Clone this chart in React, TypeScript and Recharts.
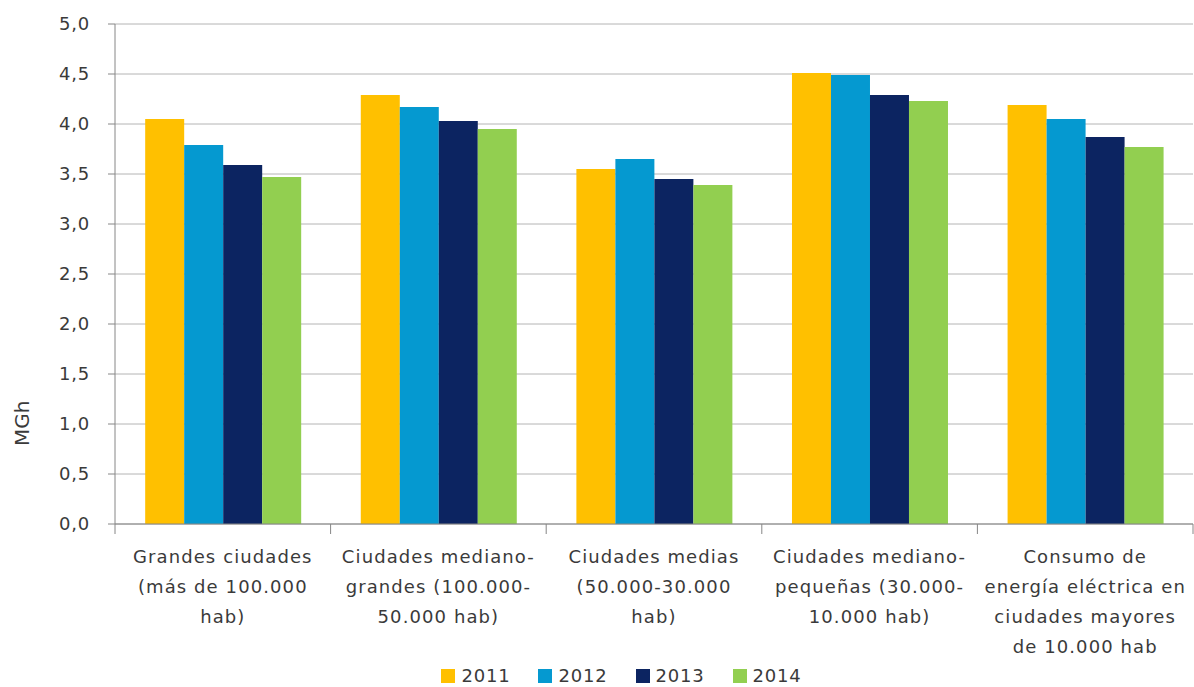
import React from 'react';
import { BarChart, Bar, XAxis, YAxis, CartesianGrid, Legend } from 'recharts';

const categories = [
    'Grandes ciudades (más de 100.000 hab)',
    'Ciudades mediano-grandes (100.000-50.000 hab)',
    'Ciudades medias (50.000-30.000 hab)',
    'Ciudades mediano-pequeñas (30.000-10.000 hab)',
    'Consumo de energía eléctrica en ciudades mayores de 10.000 hab',
];

// how each category label breaks into lines under the axis
const categoryLines = [
    ['Grandes ciudades', '(más de 100.000', 'hab)'],
    ['Ciudades mediano-', 'grandes (100.000-', '50.000 hab)'],
    ['Ciudades medias', '(50.000-30.000', 'hab)'],
    ['Ciudades mediano-', 'pequeñas (30.000-', '10.000 hab)'],
    ['Consumo de', 'energía eléctrica en', 'ciudades mayores', 'de 10.000 hab'],
];

const values2011 = [4.05, 4.29, 3.55, 4.51, 4.19];
const values2012 = [3.79, 4.17, 3.65, 4.49, 4.05];
const values2013 = [3.59, 4.03, 3.45, 4.29, 3.87];
const values2014 = [3.47, 3.95, 3.39, 4.23, 3.77];

const yTicks = [0, 0.5, 1, 1.5, 2, 2.5, 3, 3.5, 4, 4.5, 5];

const series = [
    { key: 'y2011', name: '2011', color: '#FFC000' },
    { key: 'y2012', name: '2012', color: '#0599D0' },
    { key: 'y2013', name: '2013', color: '#0C2461' },
    { key: 'y2014', name: '2014', color: '#92CF50' },
];

const data = categories.map((name, i) => ({
    name,
    y2011: values2011[i],
    y2012: values2012[i],
    y2013: values2013[i],
    y2014: values2014[i],
}));

const FONT = '"DejaVu Sans", "Open Sans", sans-serif';
const TEXT = '#3a3a3a';

const CategoryTick = (props: any) => {
    const { x, y, payload, index } = props;
    const lines: string[] = categoryLines[payload.index ?? index] || [payload.value];
    const half = payload.offset || 215.6 / 2;
    return (
        <g>
            <line x1={x + half} y1={y} x2={x + half} y2={y + 10} stroke="#868686" />
            {index === 0 && <line x1={x - half} y1={y} x2={x - half} y2={y + 10} stroke="#868686" />}
            {lines.map((l, i) => (
                <text
                    key={i}
                    x={x}
                    y={y + 34 + i * 30}
                    textAnchor="middle"
                    dominantBaseline="middle"
                    fill={TEXT}
                    fontSize={18}
                    letterSpacing={1.1}
                    fontFamily={FONT}
                >
                    {l}
                </text>
            ))}
        </g>
    );
};

const LegendContent = () => (
    <div style={{ display: 'flex', justifyContent: 'center', alignItems: 'center', fontFamily: FONT, fontSize: 18, letterSpacing: 0.8, color: TEXT, paddingLeft: 50, paddingTop: 3 }}>
        {series.map((s) => (
            <div key={s.key} style={{ display: 'flex', alignItems: 'center', margin: '0 14px' }}>
                <span style={{ width: 14, height: 14, background: s.color, display: 'inline-block', marginRight: 6 }} />
                <span>{s.name}</span>
            </div>
        ))}
    </div>
);

const App = () => {
    return (
        <div style={{ position: 'absolute', left: 0, top: 0, background: '#fff' }}>
            <BarChart
                width={1194}
                height={687}
                data={data}
                margin={{ top: 24, right: 1, bottom: 0, left: 0 }}
                barCategoryGap="14%"
                barGap={0}
            >
                <CartesianGrid vertical={false} stroke="#b4b4b4" />
                <XAxis
                    dataKey="name"
                    height={138}
                    interval={0}
                    tickLine={false}
                    tickSize={0}
                    tickMargin={0}
                    axisLine={{ stroke: '#868686' }}
                    tick={<CategoryTick />}
                />
                <YAxis
                    width={115}
                    domain={[0, 5]}
                    ticks={yTicks}
                    interval={0}
                    tickFormatter={(v: number) => v.toFixed(1).replace('.', ',')}
                    axisLine={{ stroke: '#868686' }}
                    tickLine={{ stroke: '#868686' }}
                    tickSize={7}
                    tickMargin={18}
                    tick={{ fill: TEXT, fontSize: 18, fontFamily: FONT, letterSpacing: 0.8 }}
                    label={{ value: 'MGh', angle: -90, position: 'insideLeft', offset: 22, fill: TEXT, fontSize: 20, fontFamily: FONT, dy: 172 }}
                />
                <Legend verticalAlign="bottom" height={25} content={<LegendContent />} />
                {series.map((s) => (
                    <Bar key={s.key} dataKey={s.key} name={s.name} fill={s.color} isAnimationActive={false} />
                ))}
            </BarChart>
        </div>
    );
};

export default App;
